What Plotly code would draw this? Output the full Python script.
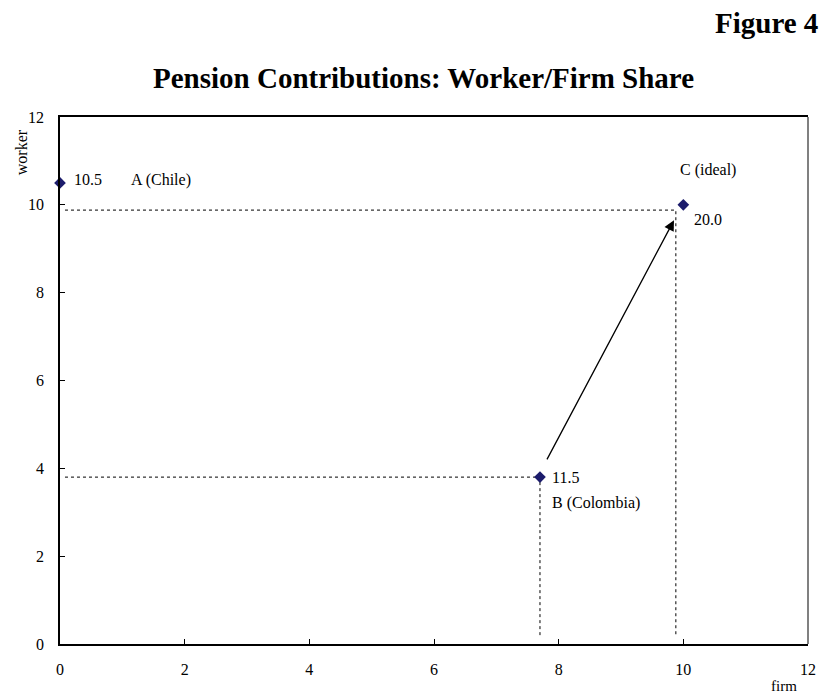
import plotly.graph_objects as go

# Data
point_names = ["A (Chile)", "B (Colombia)", "C (ideal)"]
firm = [0.0, 7.7, 10.0]
worker = [10.5, 3.8, 10.0]
totals = ["10.5", "11.5", "20.0"]

# reference guide levels
guide_b = (7.7, 3.8)
guide_c = (9.88, 9.88)
arrow_start = (7.8, 4.17)
arrow_end = (9.85, 9.65)

x_ticks = [0, 2, 4, 6, 8, 10, 12]
y_ticks = [0, 2, 4, 6, 8, 10, 12]

FONT = "Liberation Serif, Times New Roman, serif"
fig = go.Figure()

dash = dict(color="black", width=1, dash="3px,3px")
fig.add_trace(go.Scatter(x=[0.08, guide_b[0], guide_b[0]], y=[guide_b[1], guide_b[1], 0.16],
                         mode="lines", line=dash, hoverinfo="skip", showlegend=False))
fig.add_trace(go.Scatter(x=[0.08, guide_c[0], guide_c[0]], y=[guide_c[1], guide_c[1], 0.16],
                         mode="lines", line=dash, hoverinfo="skip", showlegend=False))

fig.add_trace(go.Scatter(x=firm, y=worker, mode="markers",
                         marker=dict(symbol="diamond", size=9, color="#1c1c6c"),
                         cliponaxis=False, showlegend=False))

# arrow
fig.add_annotation(x=arrow_end[0], y=arrow_end[1], ax=arrow_start[0], ay=arrow_start[1],
                   xref="x", yref="y", axref="x", ayref="y", showarrow=True,
                   arrowhead=2, arrowsize=1.6, arrowwidth=1.3, arrowcolor="black", text="")

lf = dict(family=FONT, size=16, color="black")
fig.add_annotation(x=firm[0], y=worker[0], text=totals[0], showarrow=False, xanchor="left", xshift=12, yshift=3, font=lf)
fig.add_annotation(x=firm[1], y=worker[1], text=totals[1], showarrow=False, xanchor="left", xshift=10, font=lf)
fig.add_annotation(x=firm[2], y=worker[2], text=totals[2], showarrow=False, xanchor="left", xshift=9, yshift=-15, font=lf)
fig.add_annotation(x=1.1, y=worker[0], text=point_names[0], showarrow=False, xanchor="left", yshift=3, font=lf)
fig.add_annotation(x=firm[1], y=worker[1], text=point_names[1], showarrow=False, xanchor="left", xshift=10, yshift=-26, font=lf)
fig.add_annotation(x=firm[2], y=worker[2], text=point_names[2], showarrow=False, xanchor="center", xshift=25, yshift=35, font=lf)

# axis titles & headings (paper coords relative to plot area: x 60..812, y 117..644)
fig.add_annotation(xref="paper", yref="paper", x=(21-60)/752, y=(644-152)/527, text="worker", textangle=-90,
                   xanchor="center", yanchor="middle",
                   showarrow=False, font=dict(family=FONT, size=16, color="black"))
fig.add_annotation(xref="paper", yref="paper", x=(788-60)/752, y=(644-686)/527, text="firm",
                   xanchor="center", yanchor="middle",
                   showarrow=False, font=dict(family=FONT, size=15, color="black"))
fig.add_annotation(xref="paper", yref="paper", x=(425-60)/752, y=(644-78)/527, xanchor="center", yanchor="middle",
                   text="<b>Pension Contributions: Worker/Firm Share</b>",
                   showarrow=False, font=dict(family=FONT, size=29, color="black"))
fig.add_annotation(xref="paper", yref="paper", x=(824-60)/752, xanchor="right", y=(644-23)/527, yanchor="middle",
                   text="<b>Figure 4</b>",
                   showarrow=False, font=dict(family=FONT, size=29, color="black"))

# right border in gray
fig.add_shape(type="line", xref="paper", yref="paper", x0=1, x1=1, y0=0, y1=1,
              line=dict(color="#808080", width=2))

tf = dict(family=FONT, size=16, color="black")
fig.update_xaxes(range=[0, 12], tickvals=x_ticks, ticklabelstandoff=10, showgrid=False, zeroline=False,
                 showline=True, linecolor="black", linewidth=1.5, mirror=True,
                 ticks="inside", ticklen=5, tickcolor="black", tickfont=tf)
fig.update_yaxes(range=[0, 12], tickvals=y_ticks, ticklabelstandoff=11, showgrid=False, zeroline=False,
                 showline=True, linecolor="black", linewidth=1.5, mirror=False,
                 ticks="inside", ticklen=5, tickcolor="black", tickfont=tf)

# page body has an 8px margin, so the figure is sized 820x685
fig.update_layout(width=820, height=685, margin=dict(l=52, r=16, t=109, b=49),
                  plot_bgcolor="white", paper_bgcolor="white", showlegend=False,
                  font=dict(family=FONT))

fig.write_html("out.html")
